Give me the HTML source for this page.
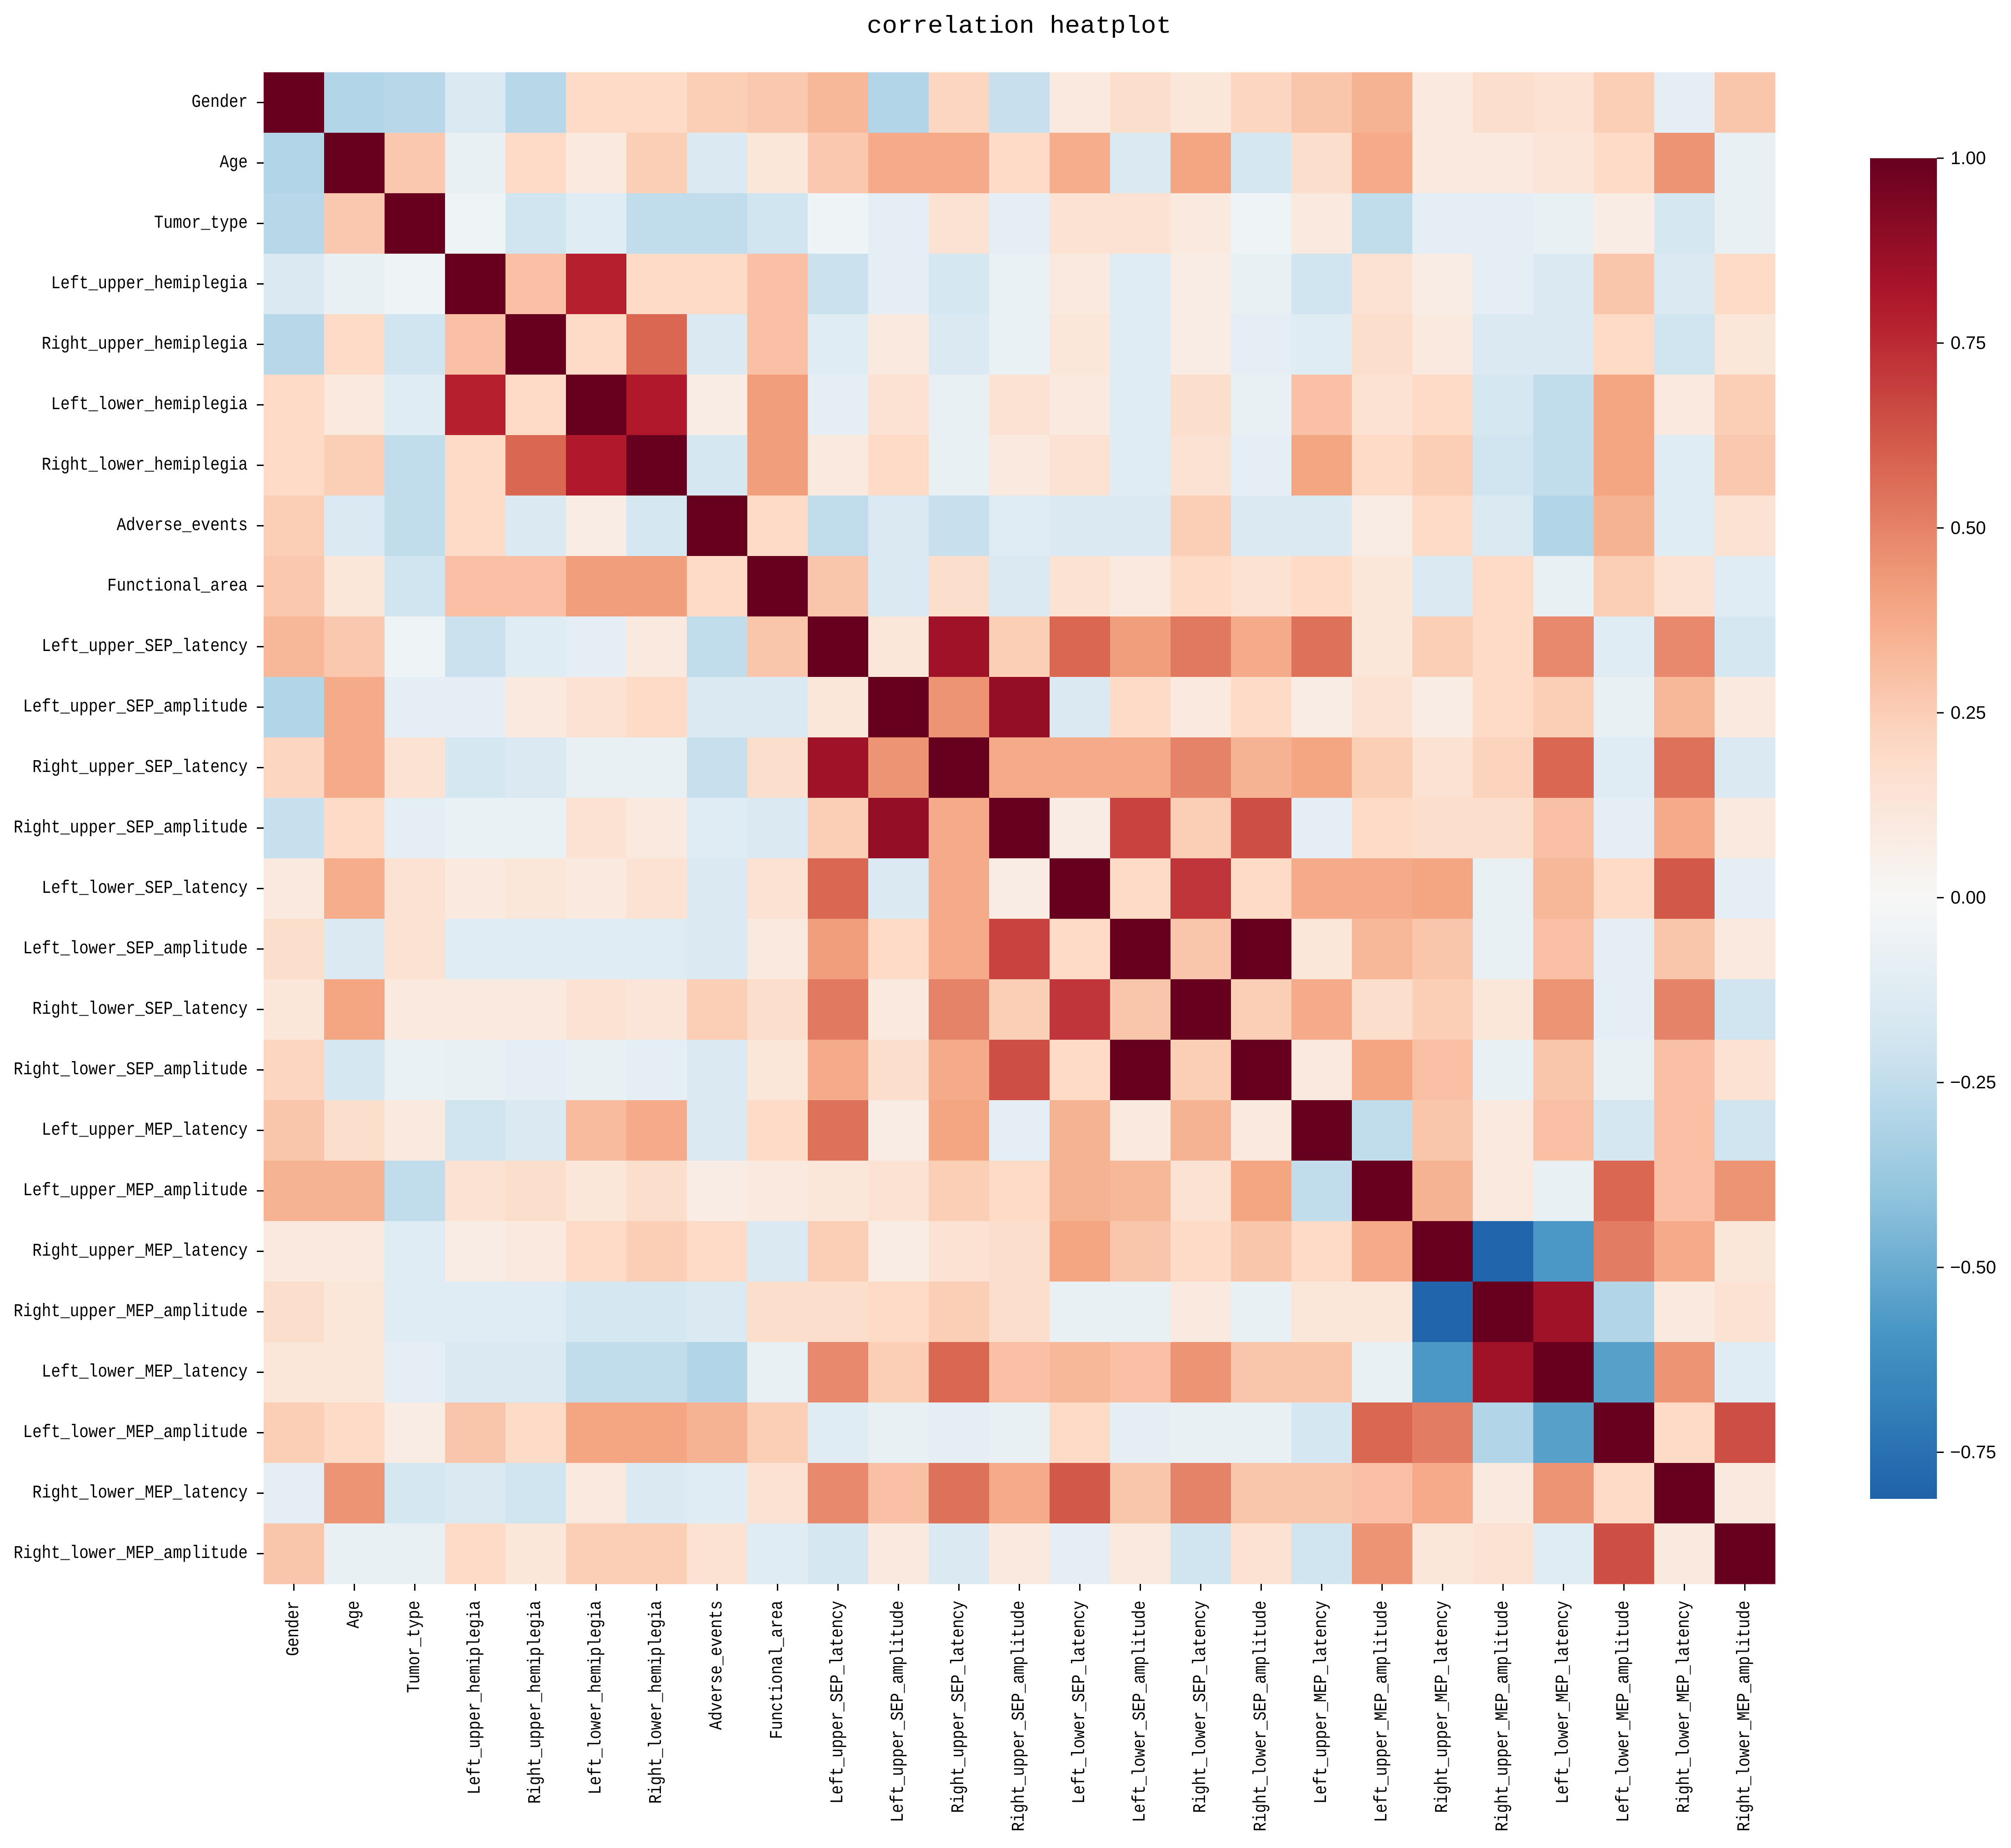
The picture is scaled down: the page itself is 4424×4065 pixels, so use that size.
<!DOCTYPE html>
<html><head><meta charset="utf-8"><style>
html,body{margin:0;padding:0;background:#fff;}
svg{display:block;}
</style></head><body>
<svg id="chart" width="4424" height="4065" viewBox="0 0 4424 4065" xmlns="http://www.w3.org/2000/svg">
<rect x="0" y="0" width="4424" height="4065" fill="#ffffff"/>
<text x="2242" y="72" text-anchor="middle" font-family="Liberation Mono, monospace" font-size="54" textLength="670" lengthAdjust="spacingAndGlyphs" fill="#000">correlation heatplot</text>
<g id="cells"></g>
<g id="ylabels"></g>
<g id="xlabels"></g>
<defs><linearGradient id="cbgrad" x1="0" y1="1" x2="0" y2="0"></linearGradient></defs>
<rect x="4114" y="348" width="147" height="2949" fill="url(#cbgrad)"/>
<g id="cbticks"></g>
</svg>
<script>
const labels = ["Gender","Age","Tumor_type","Left_upper_hemiplegia","Right_upper_hemiplegia","Left_lower_hemiplegia","Right_lower_hemiplegia","Adverse_events","Functional_area","Left_upper_SEP_latency","Left_upper_SEP_amplitude","Right_upper_SEP_latency","Right_upper_SEP_amplitude","Left_lower_SEP_latency","Left_lower_SEP_amplitude","Right_lower_SEP_latency","Right_lower_SEP_amplitude","Left_upper_MEP_latency","Left_upper_MEP_amplitude","Right_upper_MEP_latency","Right_upper_MEP_amplitude","Left_lower_MEP_latency","Left_lower_MEP_amplitude","Right_lower_MEP_latency","Right_lower_MEP_amplitude"];
const row0 = [1,-0.3,-0.28,-0.15,-0.28,0.2,0.2,0.25,0.27,0.33,-0.3,0.22,-0.23,0.1,0.18,0.12,0.22,0.28,0.35,0.1,0.18,0.15,0.25,-0.1,0.28];
const row1 = [-0.3,1,0.27,-0.08,0.2,0.1,0.25,-0.15,0.12,0.27,0.38,0.38,0.2,0.37,-0.15,0.4,-0.18,0.18,0.38,0.1,0.1,0.13,0.2,0.45,-0.08];
const row2 = [-0.28,0.27,1,-0.05,-0.2,-0.12,-0.25,-0.25,-0.2,-0.05,-0.1,0.15,-0.1,0.15,0.15,0.1,-0.05,0.1,-0.25,-0.1,-0.1,-0.08,0.08,-0.18,-0.08];
const row3 = [-0.15,-0.08,-0.05,1,0.3,0.78,0.2,0.2,0.3,-0.22,-0.1,-0.18,-0.07,0.1,-0.12,0.08,-0.08,-0.2,0.15,0.08,-0.1,-0.15,0.28,-0.15,0.2];
const row4 = [-0.28,0.2,-0.2,0.3,1,0.2,0.58,-0.15,0.3,-0.12,0.1,-0.15,-0.07,0.12,-0.12,0.08,-0.1,-0.12,0.18,0.1,-0.15,-0.15,0.2,-0.2,0.12];
const row5 = [0.2,0.1,-0.12,0.78,0.2,1,0.8,0.08,0.42,-0.1,0.15,-0.08,0.15,0.1,-0.12,0.18,-0.08,0.3,0.15,0.2,-0.18,-0.25,0.4,0.1,0.25];
const row6 = [0.2,0.25,-0.25,0.2,0.58,0.8,1,-0.18,0.42,0.1,0.2,-0.08,0.1,0.15,-0.12,0.15,-0.1,0.4,0.2,0.25,-0.2,-0.25,0.4,-0.12,0.27];
const row7 = [0.25,-0.15,-0.25,0.2,-0.15,0.08,-0.18,1,0.2,-0.25,-0.15,-0.23,-0.12,-0.15,-0.15,0.25,-0.15,-0.15,0.08,0.2,-0.15,-0.3,0.35,-0.12,0.15];
const row8 = [0.27,0.12,-0.2,0.3,0.3,0.42,0.42,0.2,1,0.28,-0.15,0.18,-0.15,0.15,0.1,0.2,0.15,0.2,0.12,-0.15,0.2,-0.08,0.25,0.15,-0.12];
const row9 = [0.33,0.27,-0.05,-0.22,-0.12,-0.1,0.1,-0.25,0.28,1,0.12,0.85,0.25,0.58,0.42,0.53,0.38,0.55,0.12,0.25,0.2,0.48,-0.12,0.48,-0.18];
const row10 = [-0.3,0.38,-0.1,-0.1,0.1,0.15,0.2,-0.15,-0.15,0.12,1,0.45,0.88,-0.15,0.2,0.1,0.2,0.08,0.15,0.08,0.2,0.25,-0.08,0.33,0.1];
const row11 = [0.22,0.38,0.15,-0.18,-0.15,-0.08,-0.08,-0.23,0.18,0.85,0.45,1,0.38,0.38,0.38,0.5,0.35,0.4,0.25,0.15,0.23,0.58,-0.12,0.55,-0.15];
const row12 = [-0.23,0.2,-0.1,-0.07,-0.07,0.15,0.1,-0.12,-0.15,0.25,0.88,0.38,1,0.08,0.68,0.25,0.65,-0.1,0.2,0.18,0.18,0.3,-0.1,0.38,0.1];
const row13 = [0.1,0.37,0.15,0.1,0.12,0.1,0.15,-0.15,0.15,0.58,-0.15,0.38,0.08,1,0.2,0.72,0.2,0.38,0.38,0.4,-0.08,0.33,0.2,0.62,-0.1];
const row14 = [0.18,-0.15,0.15,-0.12,-0.12,-0.12,-0.12,-0.15,0.1,0.42,0.2,0.38,0.68,0.2,1,0.28,1,0.12,0.33,0.28,-0.08,0.3,-0.1,0.28,0.1];
const row15 = [0.12,0.4,0.1,0.1,0.1,0.15,0.13,0.25,0.18,0.53,0.1,0.5,0.25,0.72,0.28,1,0.25,0.38,0.18,0.25,0.12,0.45,-0.1,0.5,-0.2];
const row16 = [0.22,-0.18,-0.07,-0.08,-0.1,-0.08,-0.1,-0.15,0.12,0.38,0.18,0.38,0.65,0.2,1,0.25,1,0.1,0.4,0.3,-0.08,0.28,-0.08,0.3,0.15];
const row17 = [0.28,0.18,0.1,-0.2,-0.15,0.32,0.38,-0.15,0.2,0.55,0.08,0.4,-0.1,0.35,0.1,0.35,0.1,1,-0.25,0.28,0.1,0.3,-0.18,0.3,-0.2];
const row18 = [0.35,0.35,-0.25,0.15,0.18,0.12,0.18,0.08,0.1,0.12,0.15,0.25,0.2,0.35,0.33,0.15,0.4,-0.25,1,0.35,0.1,-0.08,0.58,0.3,0.45];
const row19 = [0.1,0.1,-0.12,0.08,0.1,0.2,0.25,0.2,-0.15,0.25,0.08,0.15,0.18,0.4,0.28,0.2,0.28,0.2,0.38,1,-0.8,-0.58,0.52,0.38,0.12];
const row20 = [0.18,0.12,-0.12,-0.12,-0.12,-0.18,-0.18,-0.15,0.18,0.18,0.2,0.25,0.18,-0.08,-0.08,0.1,-0.08,0.12,0.12,-0.8,1,0.85,-0.3,0.1,0.15];
const row21 = [0.12,0.12,-0.1,-0.15,-0.15,-0.25,-0.25,-0.3,-0.08,0.48,0.25,0.58,0.3,0.33,0.3,0.45,0.28,0.28,-0.08,-0.58,0.85,1,-0.55,0.45,-0.12];
const row22 = [0.25,0.2,0.08,0.28,0.2,0.4,0.4,0.35,0.25,-0.12,-0.08,-0.1,-0.08,0.2,-0.1,-0.08,-0.08,-0.18,0.58,0.52,-0.3,-0.55,1,0.2,0.65];
const row23 = [-0.1,0.45,-0.18,-0.15,-0.2,0.1,-0.15,-0.12,0.15,0.48,0.3,0.55,0.38,0.62,0.28,0.5,0.28,0.28,0.3,0.38,0.1,0.45,0.2,1,0.1];
const row24 = [0.28,-0.08,-0.08,0.2,0.12,0.25,0.25,0.15,-0.12,-0.18,0.1,-0.15,0.1,-0.1,0.1,-0.2,0.15,-0.2,0.45,0.12,0.15,-0.12,0.65,0.1,1];
const matrix = [row0,row1,row2,row3,row4,row5,row6,row7,row8,row9,row10,row11,row12,row13,row14,row15,row16,row17,row18,row19,row20,row21,row22,row23,row24];
const cbTicks = [1.0,0.75,0.5,0.25,0,-0.25,-0.5,-0.75];
const cbTickLabels = ["1.00","0.75","0.50","0.25","0.00","\u22120.25","\u22120.50","\u22120.75"];
const vmax = 1.0, vmin = -0.813;

const NS = "http://www.w3.org/2000/svg";
const X0 = 580, Y0 = 159, W = 3325, H = 3325;
const n = labels.length;
const cw = W / n, ch = H / n;
function xPos(i){ return X0 + i * cw; }
function yPos(i){ return Y0 + i * ch; }
const CB_TOP = 348, CB_BOT = 3297;
function cbY(v){ return CB_TOP + (vmax - v) / (vmax - vmin) * (CB_BOT - CB_TOP); }

const stops = [[-1,"#053061"],[-0.8,"#2166ac"],[-0.6,"#4393c3"],[-0.4,"#92c5de"],[-0.2,"#d1e5f0"],[0,"#f7f7f7"],[0.2,"#fddbc7"],[0.4,"#f4a582"],[0.6,"#d6604d"],[0.8,"#b2182b"],[1,"#67001f"]];
function hex(c){ return [parseInt(c.slice(1,3),16),parseInt(c.slice(3,5),16),parseInt(c.slice(5,7),16)]; }
function color(v){
  v = Math.max(-1, Math.min(1, v));
  for (let k = 0; k < stops.length - 1; k++) {
    const a = stops[k], b = stops[k+1];
    if (v <= b[0]) {
      const t = (v - a[0]) / (b[0] - a[0]);
      const ca = hex(a[1]), cb = hex(b[1]);
      return "rgb(" + ca.map((x,j)=>Math.round(x + (cb[j]-x)*t)).join(",") + ")";
    }
  }
  return stops[stops.length-1][1];
}

const cells = document.getElementById("cells");
for (let r = 0; r < n; r++) {
  for (let c = 0; c < n; c++) {
    const rect = document.createElementNS(NS, "rect");
    
    
    rect.setAttribute("x", xPos(c));
    rect.setAttribute("y", yPos(r));
    rect.setAttribute("width", cw + 0.6);
    rect.setAttribute("height", ch + 0.6);
    rect.setAttribute("fill", color(matrix[r][c]));
    cells.appendChild(rect);
  }
}

const yl = document.getElementById("ylabels");
const xl = document.getElementById("xlabels");
labels.forEach((lab, i) => {
  const yc = yPos(i) + ch / 2;
  const tk = document.createElementNS(NS, "line");
  
  
  tk.setAttribute("x1", X0 - 15); tk.setAttribute("x2", X0);
  tk.setAttribute("y1", yc); tk.setAttribute("y2", yc);
  tk.setAttribute("stroke", "#000"); tk.setAttribute("stroke-width", "3");
  yl.appendChild(tk);
  const t = document.createElementNS(NS, "text");
  
  
  t.setAttribute("x", X0 - 35);
  t.setAttribute("y", yc);
  t.setAttribute("text-anchor", "end");
  t.setAttribute("dominant-baseline", "central");
  t.setAttribute("font-family", "Liberation Mono, monospace");
  t.setAttribute("font-size", "40");
  t.setAttribute("textLength", (lab.length * 20.6).toFixed(1));
  t.setAttribute("lengthAdjust", "spacingAndGlyphs");
  t.textContent = lab;
  yl.appendChild(t);

  const xc = xPos(i) + cw / 2;
  const tk2 = document.createElementNS(NS, "line");
  
  
  tk2.setAttribute("x1", xc); tk2.setAttribute("x2", xc);
  tk2.setAttribute("y1", Y0 + H); tk2.setAttribute("y2", Y0 + H + 15);
  tk2.setAttribute("stroke", "#000"); tk2.setAttribute("stroke-width", "3");
  xl.appendChild(tk2);
  const t2 = document.createElementNS(NS, "text");
  
  
  const ty = Y0 + H + 37;
  t2.setAttribute("x", xc);
  t2.setAttribute("y", ty);
  t2.setAttribute("transform", "rotate(-90 " + xc + " " + ty + ")");
  t2.setAttribute("text-anchor", "end");
  t2.setAttribute("dominant-baseline", "central");
  t2.setAttribute("font-family", "Liberation Mono, monospace");
  t2.setAttribute("font-size", "40");
  t2.setAttribute("textLength", (lab.length * 20.3).toFixed(1));
  t2.setAttribute("lengthAdjust", "spacingAndGlyphs");
  t2.textContent = lab;
  xl.appendChild(t2);
});

const grad = document.getElementById("cbgrad");
for (let k = 0; k <= 40; k++) {
  const v = vmin + (vmax - vmin) * k / 40;
  const s = document.createElementNS(NS, "stop");
  s.setAttribute("offset", (k / 40).toFixed(3));
  s.setAttribute("stop-color", color(v));
  grad.appendChild(s);
}
const cbt = document.getElementById("cbticks");
cbTicks.forEach((v, i) => {
  const y = cbY(v);
  const l = document.createElementNS(NS, "line");
  
  
  l.setAttribute("x1", 4261); l.setAttribute("x2", 4276);
  l.setAttribute("y1", y); l.setAttribute("y2", y);
  l.setAttribute("stroke", "#000"); l.setAttribute("stroke-width", "3");
  cbt.appendChild(l);
  const t = document.createElementNS(NS, "text");
  
  
  t.setAttribute("x", cbTickLabels[i].startsWith("\u2212") ? 4290 : 4291);
  t.setAttribute("y", y);
  t.setAttribute("dominant-baseline", "central");
  t.setAttribute("font-family", "Liberation Sans, sans-serif");
  t.setAttribute("font-size", "40");
  t.textContent = cbTickLabels[i];
  cbt.appendChild(t);
});
</script>
</body></html>
